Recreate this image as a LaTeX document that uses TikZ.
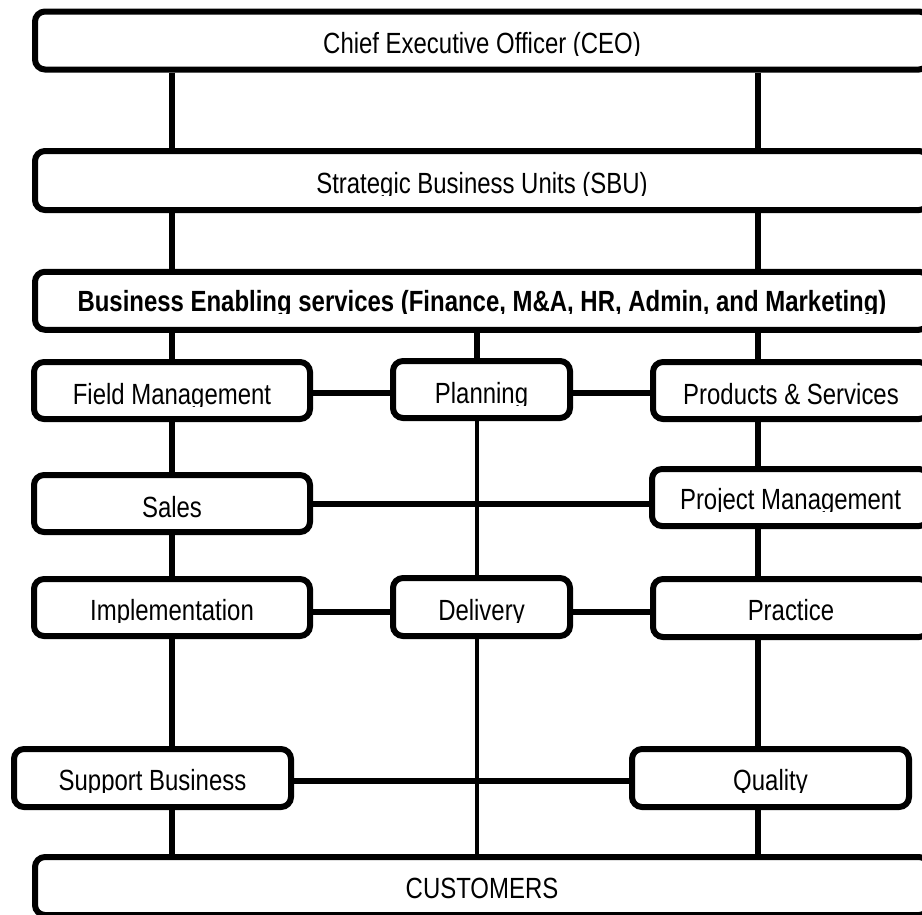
\documentclass[tikz,border=0pt]{standalone}
\usepackage{fontspec}
\setmainfont{Liberation Sans}[FakeStretch=0.82]
\begin{document}
\begin{tikzpicture}[x=1pt,y=-1pt,
  orgbox/.style={draw=black, line width=6pt, rounded corners=10pt, fill=white,
    inner sep=0pt, minimum height=58pt},
  link/.style={draw=black, line width=6pt},
  thinlink/.style={draw=black, line width=4pt},
  lbl/.style={anchor=base, inner sep=0pt, text=black,
    font=\fontsize{29.2pt}{34pt}\selectfont}]
% page frame
\useasboundingbox (0,0) rectangle (922,914);
\fill[white] (0,0) rectangle (922,914);
\clip (0,0) rectangle (922,914);

% label with descenders trimmed just below the baseline
\newcommand\boxtext[4]{%
  \begin{scope}
    \clip ([yshift=-#2pt-2pt]#1.center -| #1.west) rectangle (#1.north east);
    \node[lbl, #3] (#1-t) at ([yshift=-#2pt]#1.center) {#4};
  \end{scope}}

% column and row guides
\coordinate (xL) at (172,0);
\coordinate (xM) at (477,0);
\coordinate (xR) at (758,0);
\coordinate (r1) at (0,393);
\coordinate (r2) at (0,504);
\coordinate (r3) at (0,612);
\coordinate (r4) at (0,781);

% boxes
\node[orgbox, minimum width=894pt] (ceo)   at (482,40.5)   {};
\node[orgbox, minimum width=894pt, minimum height=59pt] (sbu) at (482,180.5) {};
\node[orgbox, minimum width=894pt] (bes)   at (482,300.75) {};
\node[orgbox, minimum width=276pt, minimum height=57pt] (fm)    at (172,390.5)  {};
\node[orgbox, minimum width=177pt, minimum height=57pt] (plan)  at (481.5,389.5){};
\node[orgbox, minimum width=276pt, minimum height=57pt] (ps)    at (791,390.5)  {};
\node[orgbox, minimum width=276pt, minimum height=57pt] (sales) at (172,503.5)  {};
\node[orgbox, minimum width=277pt, minimum height=57pt] (pm)    at (790.5,497.5){};
\node[orgbox, minimum width=276pt, minimum height=57pt] (impl)  at (172,607.5)  {};
\node[orgbox, minimum width=177pt] (deliv) at (481.5,607)  {};
\node[orgbox, minimum width=276pt] (prac)  at (791,608)    {};
\node[orgbox, minimum width=277pt] (sup)   at (152.5,778)  {};
\node[orgbox, minimum width=277pt] (qual)  at (770.5,778)  {};
\node[orgbox, minimum width=894pt] (cust)  at (482,886)    {};

% labels
\boxtext{ceo}{12.5}{}{Chief Executive Officer (CEO)}
\boxtext{sbu}{12.5}{}{Strategic Business Units (SBU)}
\boxtext{bes}{11}{font=\fontsize{29.2pt}{34pt}\selectfont\bfseries}{Business Enabling services (Finance, M\&A, HR, Admin, and Marketing)}
\boxtext{fm}{13.5}{}{Field Management}
\boxtext{plan}{13.5}{}{Planning}
\boxtext{ps}{13.5}{}{Products \& Services}
\boxtext{sales}{13.5}{}{Sales}
\boxtext{pm}{11.5}{}{Project Management}
\boxtext{impl}{13}{}{Implementation}
\boxtext{deliv}{13}{}{Delivery}
\boxtext{prac}{12.5}{}{Practice}
\boxtext{sup}{12.5}{}{Support Business}
\boxtext{qual}{12.5}{}{Quality}
\boxtext{cust}{12}{}{CUSTOMERS}

% vertical connectors, left column
\draw[link] (ceo.south -| xL) -- (sbu.north -| xL);
\draw[link] (sbu.south -| xL) -- (bes.north -| xL);
\draw[link] (bes.south -| xL) -- (fm.north -| xL);
\draw[link] (fm.south -| xL) -- (sales.north -| xL);
\draw[link] (sales.south -| xL) -- (impl.north -| xL);
\draw[link] (impl.south -| xL) -- (sup.north -| xL);
\draw[link] (sup.south -| xL) -- (cust.north -| xL);

% vertical connectors, middle column
\draw[link] (bes.south -| xM) -- (plan.north -| xM);
\draw[thinlink] (plan.south -| xM) -- (deliv.north -| xM);
\draw[thinlink] (deliv.south -| xM) -- (cust.north -| xM);

% vertical connectors, right column
\draw[link] (ceo.south -| xR) -- (sbu.north -| xR);
\draw[link] (sbu.south -| xR) -- (bes.north -| xR);
\draw[link] (bes.south -| xR) -- (ps.north -| xR);
\draw[link] (ps.south -| xR) -- (pm.north -| xR);
\draw[link] (pm.south -| xR) -- (prac.north -| xR);
\draw[link] (prac.south -| xR) -- (qual.north -| xR);
\draw[link] (qual.south -| xR) -- (cust.north -| xR);

% horizontal connectors
\draw[link] (fm.east |- r1) -- (plan.west |- r1);
\draw[link] (plan.east |- r1) -- (ps.west |- r1);
\draw[link] (sales.east |- r2) -- (pm.west |- r2);
\draw[link] (impl.east |- r3) -- (deliv.west |- r3);
\draw[link] (deliv.east |- r3) -- (prac.west |- r3);
\draw[link] (sup.east |- r4) -- (qual.west |- r4);
\end{tikzpicture}
\end{document}
